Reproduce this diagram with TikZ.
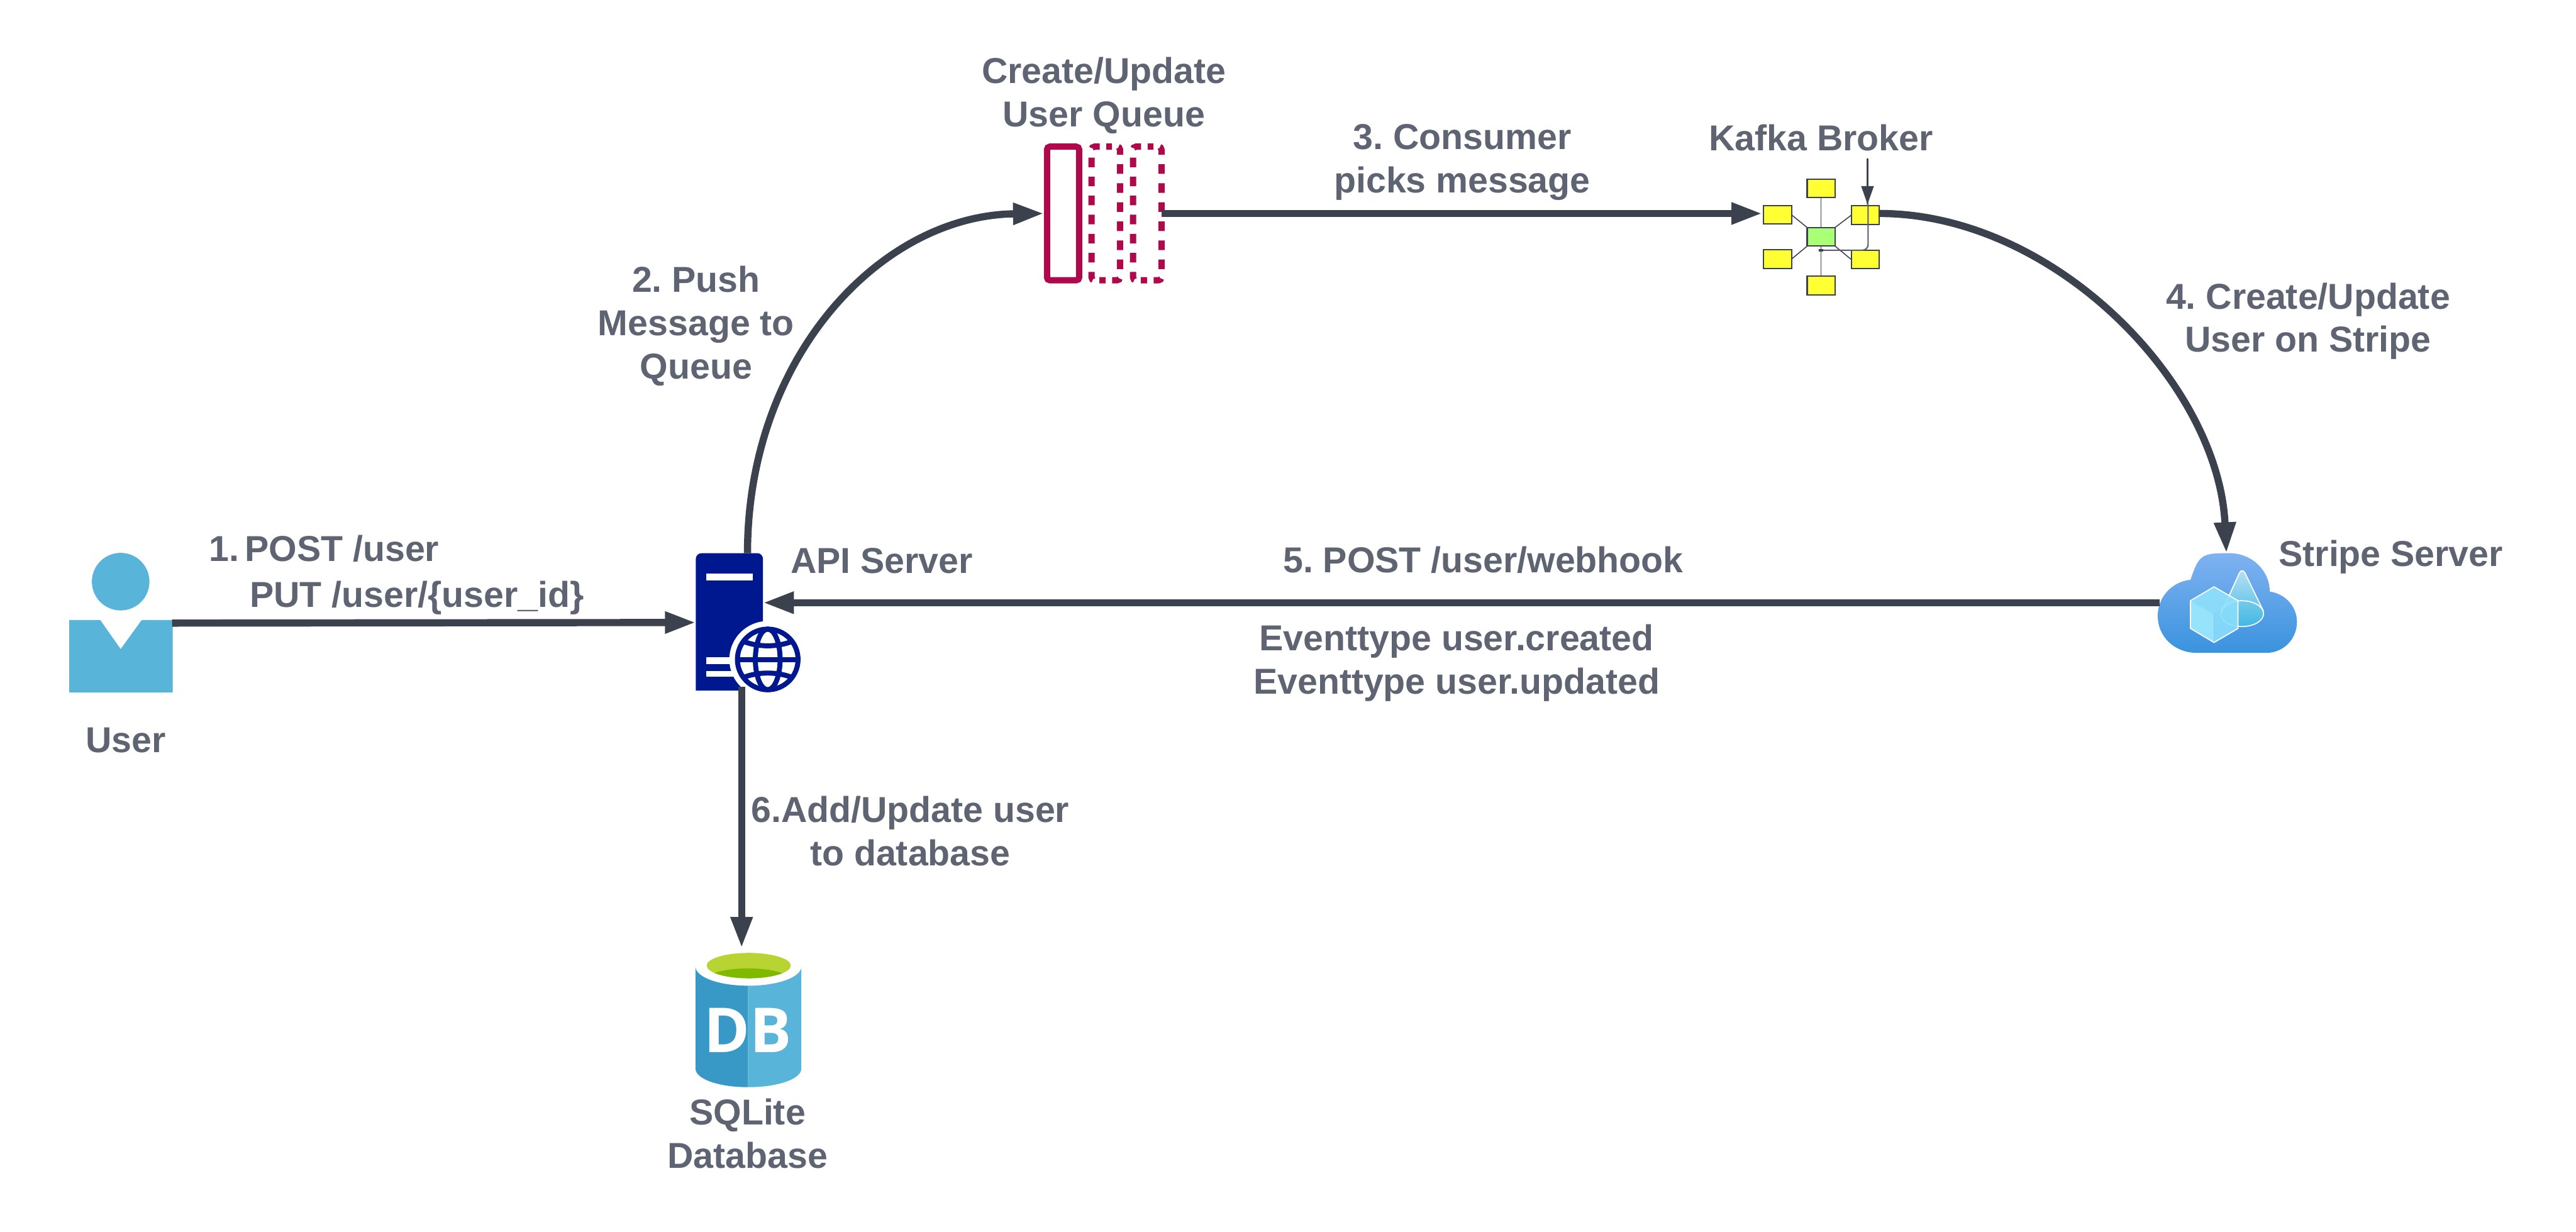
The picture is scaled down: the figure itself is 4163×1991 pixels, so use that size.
\documentclass[tikz,border=0pt]{standalone}
\usepackage{fontspec}
\setmainfont{Liberation Sans}
\newfontfamily\dbfont{Open Sans}
\usepackage{xcolor}
\usetikzlibrary{arrows.meta}
\definecolor{cLine}{HTML}{3B424E}
\definecolor{cText}{HTML}{5E6472}
\definecolor{cUser}{HTML}{59B4D9}
\definecolor{cDbDark}{HTML}{3999C6}
\definecolor{cServer}{HTML}{00188F}
\definecolor{cQueue}{HTML}{AE0A4B}
\definecolor{cYellow}{HTML}{FFFF33}
\definecolor{cGreen}{HTML}{A9FF75}
\definecolor{cLime}{HTML}{B8D432}
\definecolor{cLimeDark}{HTML}{7FBA00}
\definecolor{cloudtop}{HTML}{7FB2F1}
\definecolor{cloudbot}{HTML}{3A93DE}
\definecolor{conetop}{HTML}{B5E0F5}
\definecolor{conebot}{HTML}{40B8E2}
\definecolor{cubeL}{HTML}{9FEBFF}
\definecolor{cubeR}{HTML}{8BDDFB}
\definecolor{cubeT}{HTML}{91E1FC}
\tikzset{
  flow/.style={line width=3.3pt, cLine, -{Triangle[length=14.2pt,width=9.4pt]}},
  lab/.style={font=\bfseries\fontsize{16.55}{19.9}\selectfont\frenchspacing, text=cText, align=center, inner sep=0pt},
  kbox/.style={draw=cLine, fill=cYellow, line width=0.6pt, minimum width=0.45cm, minimum height=0.30cm, inner sep=0pt, outer sep=0pt},
  klink/.style={line width=0.45pt, cLine},
  slot/.style={line width=2.9pt, cQueue, rounded corners=1.4pt},
  slotdash/.style={slot, dash pattern=on 1.42pt off 3.04pt on 3.74pt
    off 4.35pt on 4.41pt off 4.35pt on 4.41pt off 4.35pt on 4.41pt off 4.35pt on 4.41pt off 4.35pt on 4.41pt off 4.35pt on 4.41pt
    off 4.35pt on 3.74pt off 3.04pt on 2.85pt off 3.04pt on 3.74pt
    off 4.35pt on 4.41pt off 4.35pt on 4.41pt off 4.35pt on 4.41pt off 4.35pt on 4.41pt off 4.35pt on 4.41pt off 4.35pt on 4.41pt
    off 4.35pt on 3.74pt off 3.04pt on 1.42pt off 0.01pt},
  globeline/.style={line width=2.3pt, cServer},
}
\newcommand{\slotbox}[3][slot]{\draw[#1] ({(#2+#3)/2},237) -- (#3,237) -- (#3,453) -- (#2,453) -- (#2,237) -- cycle;}
\begin{document}
\begin{tikzpicture}[x=0.01cm,y=-0.01cm]
\useasboundingbox (0,0) rectangle (4163,1991);
% user
\node[circle, fill=cUser, minimum size=0.93cm, inner sep=0pt] (userhead) at (195,940) {};
\fill[cUser] (112,1002) -- (162,1002) -- (195,1049) -- (229,1002) -- (279,1002) -- (279,1119) -- (112,1119) -- cycle;
\coordinate (userout) at (278,1007);
\node[lab] (userlab) at (203,1196) {User};
% server
\fill[cServer] (1124.5,1116) [rounded corners=2.6pt] -- (1124.5,894) -- (1233,894) [sharp corners] -- (1233,1116) -- cycle;
\fill[white] (1141,927) rectangle (1217,938);
\fill[white] (1141,1062) rectangle (1200,1073);
\fill[white] (1141,1084) rectangle (1200,1094);
\fill[white] (1240.7,1065.7) circle[radius=62];
\begin{scope}[shift={(1240.7,1065.7)}]
  \draw[globeline] (0,0) circle[radius=49];
  \draw[globeline] (0,0) ellipse[x radius=20, y radius=49];
  \draw[globeline] (-49,0) -- (49,0);
  \draw[globeline] (-39,-29) .. controls (-15,-19.7) and (15,-19.7) .. (39,-29);
  \draw[globeline] (-39,29) .. controls (-15,19.7) and (15,19.7) .. (39,29);
\end{scope}
\coordinate (srvwest) at (1124.5,1006);
\coordinate (srvnorth) at (1208,894);
\coordinate (srveast) at (1233,974);
\coordinate (srvsouth) at (1198.5,1110);
\node[lab, anchor=west] (srvlab) at (1277,906) {API Server};
% database
\fill[cDbDark] (1124,1562) -- (1124,1727) .. controls (1124,1744) and (1162,1757) .. (1209,1757) -- (1209,1562) -- cycle;
\fill[cUser] (1295,1562) -- (1295,1727) .. controls (1295,1744) and (1256,1757) .. (1209,1757) -- (1209,1562) -- cycle;
\fill[white] (1209.5,1562) ellipse[x radius=85.5, y radius=31];
\fill[cLime] (1210,1560.5) ellipse[x radius=68, y radius=20.5];
\begin{scope}
  \clip (1210,1560.5) ellipse[x radius=68, y radius=20.5];
  \fill[cLimeDark] (1209,1585) ellipse[x radius=70, y radius=20];
\end{scope}
\node[font=\dbfont\bfseries\fontsize{28.5}{28.5}\selectfont, text=white, inner sep=0pt] (dbtext) at (1209,1665) {DB};
\coordinate (dbtop) at (1198.5,1532);
\node[lab] (dblab) at (1208,1832) {SQLite\\Database};
% queue
\slotbox{1692}{1744}
\slotbox[slotdash]{1764}{1810}
\slotbox[slotdash]{1831}{1877}
\coordinate (qin) at (1687,345);
\coordinate (qout) at (1877,345);
\node[lab] (qlab) at (1784,154) {Create/Update\\User Queue};
% kafka
\node[kbox, fill=cGreen] (kc) at (2943,382.7) {};
\node[kbox] (kt) at (2943,304.5) {};
\node[kbox] (kb) at (2943,461.5) {};
\node[kbox] (klu) at (2872.6,347.2) {};
\node[kbox] (kll) at (2872.6,418.8) {};
\node[kbox] (kru) at (3014.2,347.8) {};
\node[kbox] (krl) at (3014.2,419.3) {};
\draw[klink] (kc.north) -- (kt.south);
\draw[klink] (kc.south) -- (kb.north);
\draw[klink] (kc.north west) -- (klu.east);
\draw[klink] (kc.south west) -- (kll.east);
\draw[klink] (kc.north east) -- (kru.west);
\draw[klink] (kc.south east) -- (krl.west);
\coordinate (ktop) at (3018,256);
\coordinate (ktip) at (3018,330);
\coordinate (ktail) at (2939,404.3);
\draw[line width=1.1pt, cLine!75] (ktop) -- (ktip);
\draw[cLine, line width=0.6pt, -{Triangle[length=8.3pt,width=5.7pt]}] (ktop) -- (ktip);
\draw[cLine!85, line width=0.6pt, rounded corners=2.6pt] (3019,330) -- (3019,404.3) -- (ktail);
\draw[cLine, line width=1.1pt] (ktail) -- ++(7,0);
\coordinate (kin) at (2848,345);
\coordinate (kout) at (3037,345);
\node[lab] (klab) at (2943,223) {Kafka Broker};
% stripe
\shade[top color=cloudtop, bottom color=cloudbot] (3550,1055) .. controls (3515,1055) and (3487,1030) .. (3487,995)
  .. controls (3487,965) and (3510,940) .. (3540,937) .. controls (3554,895) and (3559,894) .. (3603,894)
  .. controls (3639,894) and (3668,922) .. (3668,956) .. controls (3695,960) and (3712,982) .. (3712,1005)
  .. controls (3712,1033) and (3690,1055) .. (3663,1055) -- cycle;
\shade[top color=conetop, bottom color=conebot] (3589,992) -- (3619,926) .. controls (3622,921) and (3625,921) .. (3628,926) -- (3658,988)
  .. controls (3660,1000) and (3640,1012) .. (3623,1012) .. controls (3605,1012) and (3589,1003) .. (3589,992) -- cycle;
\draw[white, line width=0.5pt] (3623.3,991.7) ellipse[x radius=34.7, y radius=20.8];
\draw[white, line width=0.5pt, line join=round] (3589,992) -- (3619,926) .. controls (3622,921) and (3625,921) .. (3628,926) -- (3658,988);
\fill[cubeL, opacity=0.9] (3578,992.7) -- (3578,1038.3) -- (3540,1015.7) -- (3540,970.7) -- cycle;
\fill[cubeR, opacity=0.9] (3578,992.7) -- (3578,1038.3) -- (3616.7,1015.7) -- (3616.7,970.7) -- cycle;
\fill[cubeT, opacity=0.9] (3578,992.7) -- (3540,970.7) -- (3578,948.3) -- (3616.7,970.7) -- cycle;
\draw[white, line width=0.5pt, line join=round] (3578,948.3) -- (3616.7,970.7) -- (3616.7,1015.7) -- (3578,1038.3) -- (3540,1015.7) -- (3540,970.7) -- cycle;
\coordinate (stwest) at (3490,974);
\coordinate (sttop) at (3598,894);
\node[lab, anchor=west] (stlab) at (3682,900) {Stripe Server};
% connectors
\draw[flow] (userout) -- (srvwest);
\draw[flow] (srvnorth) .. controls (1208,575) and (1425,348) .. (qin);
\draw[flow] (qout) -- (kin);
\draw[flow] (kout) .. controls (3320,345) and (3585,620) .. (sttop);
\draw[flow] (stwest) -- (srveast);
\draw[flow] (srvsouth) -- (dbtop);
% labels
\node[lab, anchor=west] (lab1a) at (337,887) {1.\,POST /user};
\node[lab, anchor=west] (lab1b) at (403,966) {PUT /user/\{user\_id\}};
\node[lab] (lab2) at (1125,527) {2. Push\\Message to\\Queue};
\node[lab] (lab3) at (2363,262) {3. Consumer\\picks message};
\node[lab] (lab4) at (3730,519) {4. Create/Update\\User on Stripe};
\node[lab] (lab5) at (2397,905) {5. POST /user/webhook};
\node[lab] (lab5b) at (2354,1071) {Eventtype user.created\\Eventtype user.updated};
\node[lab] (lab6) at (1471,1343) {6.Add/Update user\\to database};
\end{tikzpicture}
\end{document}
